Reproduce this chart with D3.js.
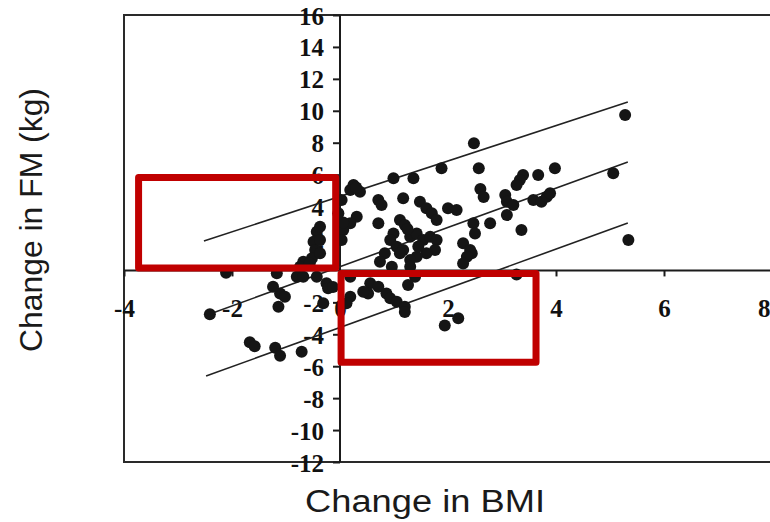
<!DOCTYPE html>
<html>
<head>
<meta charset="utf-8">
<script src="https://cdn.jsdelivr.net/npm/d3@7"></script>
<style>
  html, body { margin: 0; padding: 0; background: #fff; }
  svg { display: block; }
</style>
</head>
<body>
<svg id="chart" width="770" height="522"></svg>
<script>
// ---- data ----
const xTicks = [-4, -2, 0, 2, 4, 6, 8];
const yTicks = [16, 14, 12, 10, 8, 6, 4, 2, -2, -4, -6, -8, -10, -12];

const bmiChange = [
  // upper / right
  5.28, 2.48, 1.88, 2.57, 0.99, 1.36, 3.98, 3.67, 5.06, 3.39, 3.33, 3.27, 2.6, 2.66, 3.06, 3.09, 3.21, 3.09,
  3.58, 3.73, 3.83, 3.89, 2.47, 2.5, 2.78, 3.36, 2.44, 5.34, 3.27,
  // central cluster
  0.25, 0.37, 0.19, 0.3, 0.71, 0.77, 1.17, 1.48, 1.6, 1.7, 1.79, 2.0, 2.16, 0.31, 0.19, 0.71,
  1.11, 1.2, 0.99, 0.93, 1.05, 1.17, 1.3, 1.42, 1.54, 1.67, 1.79, 1.76, 1.6, 1.42, 1.3, 1.11, 0.83, 0.74, 0.96, 1.25, 1.45,
  2.28, 2.41, 2.35, 2.28,
  0.06, 0.03, 0.06, 0.03, -0.03,
  1.3, 1.39, 1.26,
  // below axis, right of zero
  0.19, 0.19, 0.56, 0.52, 0.71, 0.86, 0.93, 1.05, 1.2, 1.2, 1.94, 2.19, 0.43,
  // left of zero
  -0.43, -0.49, -0.46, -0.52, -0.68, -0.74, -0.37, -0.37, -0.37, -0.8, -0.68, -0.43, -0.25, -0.22, -0.31,
  -0.13, -1.17, -1.11, -1.02, -1.14, -1.24, -2.41, -1.67, -1.58, -1.2, -1.11, -0.71, -2.11, -0.56, 0.12
];
const fmChange = [
  // upper / right
  9.73, 7.96, 6.4, 6.4, 5.77, 5.77, 6.4, 5.98, 6.08, 5.98, 5.66, 5.35, 5.1, 4.6, 4.72, 4.3, 4.1, 3.47,
  4.41, 4.3, 4.62, 4.83, 2.95, 2.32, 2.95, 2.53, 1.07, 1.9, -0.25,
  // central cluster
  5.35, 4.93, 5.04, 5.2, 4.41, 4.1, 4.52, 4.3, 3.89, 3.58, 3.16, 3.89, 3.78, 3.36, 2.95, 2.95,
  3.16, 2.84, 2.32, 1.9, 1.49, 1.28, 2.11, 2.32, 1.9, 2.11, 1.9, 1.28, 1.07, 0.86, 0.65, 1.07, 1.07, 0.55, 0.23, 2.6, 1.5,
  1.7, 1.28, 0.86, 0.44,
  2.53, 1.9, 3.0, 4.41, 3.58,
  0.23, -0.39, -0.91,
  // below axis, right of zero
  -0.39, -1.65, -0.81, -1.44, -1.02, -1.44, -1.75, -1.96, -2.27, -2.6, -3.45, -3.0, -1.33,
  // left of zero
  2.43, 1.8, 1.28, 0.76, 0.55, 0.23, 1.07, 2.74, 1.9, -0.39, -0.39, -0.39, -0.81, -1.12, -2.06,
  -1.04, -0.18, -1.44, -1.65, -2.27, -1.02, -2.75, -4.5, -4.75, -4.85, -5.35, -5.09, -0.15, 0.44, -2.06
];

// regression line and its bounds: from (x1, y1) to (x2, y2)
const lineNames = ["upper", "fit", "lower"];
const lineX1 = [-2.52, -2.41, -2.48];
const lineY1 = [1.84, -2.73, -6.62];
const lineX2 = [5.33, 5.33, 5.33];
const lineY2 = [10.55, 6.79, 2.97];

// highlighted quadrants
const boxXMin = [-3.73, 0.02];
const boxXMax = [-0.08, 3.63];
const boxYMin = [0.15, -5.75];
const boxYMax = [5.82, -0.2];

const xTitle = "Change in BMI";
const yTitle = "Change in FM (kg)";

// ---- drawing ----
const svg = d3.select("#chart");
const x = d3.scaleLinear().domain([-4, 8]).range([124, 772]);
const y = d3.scaleLinear().domain([-12, 16]).range([462, 15]);

const ink = "#1b1b1b";

// frame
svg.append("path")
  .attr("d", `M${x(8) + 10},${y(16)}H${x(-4)}V${y(-12)}H${x(8) + 10}`)
  .attr("fill", "none").attr("stroke", "#2a2a2a").attr("stroke-width", 2);

const tickFont = "'Liberation Serif', 'Times New Roman', serif";
const fmt = d => String(d).replace("\u2212", "-");

// y axis at x = 0
const yAxis = d3.axisLeft(y).tickValues(yTicks).tickSize(7).tickFormat(fmt);
const gy = svg.append("g").attr("transform", `translate(${x(0)},0)`).call(yAxis);
gy.attr("font-family", null).attr("font-size", null);
gy.select(".domain").attr("fill", "none").attr("stroke", ink).attr("stroke-width", 2)
  .attr("d", `M0,${y(16)}V${y(-12)}`);
gy.selectAll(".tick line").attr("stroke", ink).attr("stroke-width", 2);
gy.selectAll(".tick text")
  .attr("x", -16).attr("dy", null).attr("y", 9)
  .attr("fill", "#111")
  .style("font-family", tickFont).style("font-weight", "bold").style("font-size", "25px");

// x axis at y = 0
const xAxis = d3.axisBottom(x).tickValues(xTicks).tickSize(6).tickFormat(fmt);
const gx = svg.append("g").attr("transform", `translate(0,${y(0)})`).call(xAxis);
gx.attr("font-family", null).attr("font-size", null);
gx.select(".domain").attr("fill", "none").attr("stroke", ink).attr("stroke-width", 2)
  .attr("d", `M${x(-4)},0H${x(8) + 10}`);
gx.selectAll(".tick line").attr("stroke", ink).attr("stroke-width", 2);
gx.selectAll(".tick text")
  .attr("y", 47).attr("dy", null)
  .attr("fill", "#111")
  .style("font-family", tickFont).style("font-weight", "bold").style("font-size", "25px");
// keep the last label inside the picture
gx.selectAll(".tick text").filter(d => d === 8).attr("text-anchor", "end").attr("x", -2);

// regression lines
svg.append("g").selectAll("line").data(lineNames).join("line")
  .attr("x1", (d, i) => x(lineX1[i])).attr("y1", (d, i) => y(lineY1[i]))
  .attr("x2", (d, i) => x(lineX2[i])).attr("y2", (d, i) => y(lineY2[i]))
  .attr("stroke", "#222").attr("stroke-width", 1.6);

// points
const pts = bmiChange.map((v, i) => ({ bx: v, fm: fmChange[i] }));
svg.append("g").selectAll("circle").data(pts).join("circle")
  .attr("cx", d => x(d.bx)).attr("cy", d => y(d.fm)).attr("r", 6)
  .attr("fill", "#151515");

// red highlight boxes
svg.append("g").selectAll("rect").data(boxXMin).join("rect")
  .attr("x", (d, i) => x(boxXMin[i]))
  .attr("y", (d, i) => y(boxYMax[i]))
  .attr("width", (d, i) => x(boxXMax[i]) - x(boxXMin[i]))
  .attr("height", (d, i) => y(boxYMin[i]) - y(boxYMax[i]))
  .attr("fill", "none").attr("stroke", "#c00000").attr("stroke-width", 7)
  .attr("stroke-linejoin", "round");

// titles
const titleFont = "'Liberation Sans', Arial, sans-serif";
svg.append("text")
  .attr("x", 425).attr("y", 512).attr("text-anchor", "middle")
  .attr("textLength", 240).attr("lengthAdjust", "spacingAndGlyphs")
  .style("font-family", titleFont).style("font-size", "31px").attr("fill", "#1a1a1a")
  .text(xTitle);
svg.append("text")
  .attr("transform", "translate(42,220) rotate(-90)").attr("text-anchor", "middle")
  .attr("textLength", 264).attr("lengthAdjust", "spacingAndGlyphs")
  .style("font-family", titleFont).style("font-size", "31px").attr("fill", "#1a1a1a")
  .text(yTitle);
</script>
</body>
</html>
